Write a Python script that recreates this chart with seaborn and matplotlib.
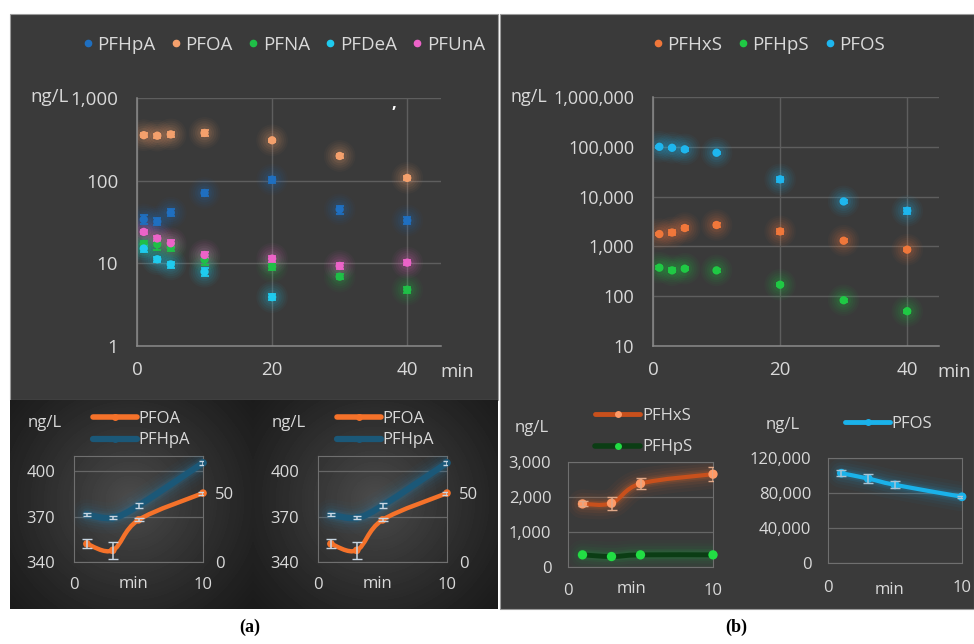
import numpy as np
import pandas as pd
import matplotlib
matplotlib.use("Agg")
import matplotlib.pyplot as plt
import seaborn as sns
from matplotlib.path import Path
from matplotlib.patches import PathPatch, Rectangle
from matplotlib.lines import Line2D
from matplotlib.ticker import FuncFormatter, FixedLocator, NullLocator

# ---------------- data ----------------
time_top = [1, 3, 5, 10, 20, 30, 40]
pfhpa = [34, 32, 41, 71, 103, 45, 33]
pfoa = [355, 350, 363, 378, 308, 199, 108]
pfna = [17.2, 17.0, 15.5, 11.1, 9.1, 6.9, 4.8]
pfdea = [15.1, 11.2, 9.7, 7.9, 3.9, np.nan, np.nan]
pfuna = [24, 20, 17.5, 12.6, 11.4, 9.3, 10.2]
pfhpa_err = [4, 3, 4, 6, 8, 5, 3]
pfoa_err = [22, 20, 25, 30, 15, 10, 6]
pfna_err = [1.5, 2.5, 1.5, 1.5, 0.8, 0.5, 0.4]
pfdea_err = [1.5, 0.8, 0.8, 0.8, 0.3, np.nan, np.nan]
pfuna_err = [1.5, 1.5, 1.8, 1.0, 1.0, 0.7, 0.7]

pfhxs = [1770, 1900, 2340, 2690, 2000, 1300, 860]
pfhps = [374, 330, 357, 330, 170, 83, 50]
pfos = [100000, 95500, 89000, 76000, 22200, 8000, 5200]
pfhxs_err = [100, 200, 170, 200, 200, 90, 60]
pfhps_err = [25, 30, 25, 25, 12, 6, 4]
pfos_err = [5000, 5000, 5000, 4000, 3000, 500, 800]

time_in = [1, 3, 5, 10]
in_pfoa = [352, 347.7, 367.8, 385.5]
in_pfoa_err = [3, 5.5, 1, 1]
in_pfhpa = [34.3, 32.1, 41, 72]
in_pfhpa_err = [1, 1, 2, 1.5]
in_pfhxs = [1803, 1822, 2382, 2652]
in_pfhxs_err = [70, 190, 160, 200]
in_pfhps = [347, 299, 347, 347]
in_pfos = [102600, 96500, 89300, 75700]
in_pfos_err = [3500, 5000, 4000, 1000]

# ---------------- style ----------------
sns.set_theme(style="ticks")
plt.rcParams["font.family"] = ["Open Sans", "DejaVu Sans"]
TXT = "#d9d9d9"
GRID = "#5e5e5e"
SPINE = "#8a8a8a"
FS_TOP = 13.5
FS_IN = 12

W, H = 974, 644
fig = plt.figure(figsize=(W / 100, H / 100), dpi=100)
fig.patch.set_facecolor("white")


def fa(l, t, r, b, **kw):
    return fig.add_axes([l / W, 1 - b / H, (r - l) / W, (b - t) / H], **kw)


def px(x, y):
    return x / W, 1 - y / H


comma = FuncFormatter(lambda v, p: f"{v:,.0f}")

# ---------------- backgrounds ----------------
fig.add_artist(Rectangle(px(10, 400), 488 / W, 386 / H, transform=fig.transFigure,
                         fc="#3a3a3a", ec="#9a9a9a", lw=0.8, zorder=-5))
fig.add_artist(Rectangle(px(500, 609), 474 / W, 595 / H, transform=fig.transFigure,
                         fc="#3a3a3a", ec="#9a9a9a", lw=0.8, zorder=-5))
axbg = fa(10, 400, 498, 609, zorder=-1)
hh, ww = 209, 488
yy, xx = np.mgrid[0:hh, 0:ww]
d1 = np.hypot(xx - 120, yy - 100)
d2 = np.hypot(xx - 365, yy - 100)
f1 = np.clip(1 - d1 / 170, 0, 1) ** 1.3
f2 = np.clip(1 - d2 / 170, 0, 1) ** 1.3
grad = 26 + 50 * np.maximum(f1, f2)
axbg.imshow(grad, cmap="gray", vmin=0, vmax=255, aspect="auto")
axbg.axis("off")


def style_axes(ax, fs, xpad, ypad):
    ax.set_facecolor("none")
    for s in ["top", "right"]:
        ax.spines[s].set_visible(False)
    for s in ["left", "bottom"]:
        ax.spines[s].set_color(SPINE)
        ax.spines[s].set_linewidth(1.1)
    ax.tick_params(axis="both", length=0, labelsize=fs, labelcolor=TXT)
    ax.tick_params(axis="x", pad=xpad)
    ax.tick_params(axis="y", pad=ypad)
    ax.set_xlabel("")
    ax.set_ylabel("")


def top_panel(l, t, r, b, series, ylim, yticks, legend_cx, yfs):
    ax = fa(l, t, r, b)
    ax.set_yscale("log")
    rows = []
    for name, vals, err, col in series:
        for xv, yv in zip(time_top, vals):
            if not np.isnan(yv):
                rows.append({"min": xv, "conc": yv, "compound": name})
    df = pd.DataFrame(rows)
    pal = {name: col for name, vals, err, col in series}
    for s_, a_ in [(520, 0.035), (400, 0.045), (290, 0.055), (190, 0.07), (110, 0.09)]:
        sns.scatterplot(data=df, x="min", y="conc", hue="compound", palette=pal, s=s_,
                        alpha=a_, edgecolor="none", legend=False, ax=ax)
    for name, vals, err, col in series:
        ax.errorbar(time_top, vals, yerr=err, fmt="none", ecolor=col, elinewidth=1.3,
                    capsize=3, capthick=1.3, zorder=3)
    sns.scatterplot(data=df, x="min", y="conc", hue="compound", palette=pal, s=36,
                    edgecolor="none", legend=False, ax=ax, zorder=4)
    ax.set_xlim(0, 45)
    ax.set_ylim(*ylim)
    ax.yaxis.set_major_locator(FixedLocator(yticks))
    ax.yaxis.set_minor_locator(NullLocator())
    ax.yaxis.set_major_formatter(comma)
    ax.set_xticks([0, 20, 40])
    ax.grid(True, color=GRID, lw=1)
    style_axes(ax, FS_TOP, 11, 13.5)
    ax.tick_params(axis="y", labelsize=yfs)
    handles = [Line2D([], [], ls="none", marker="o", ms=4.5, color=c) for _, _, _, c in series]
    labels = [n for n, _, _, _ in series]
    ax.legend(handles, labels, loc="center", bbox_to_anchor=px(legend_cx, 45),
              bbox_transform=fig.transFigure, ncol=len(series), frameon=False,
              fontsize=13.5, handletextpad=0.15, columnspacing=0.75, handlelength=0.7,
              labelcolor=TXT)
    return ax


top_panel(137, 98, 441, 346,
          [("PFHpA", pfhpa, pfhpa_err, "#1f6fc0"),
           ("PFOA", pfoa, pfoa_err, "#f4a06c"),
           ("PFNA", pfna, pfna_err, "#1fbf47"),
           ("PFDeA", pfdea, pfdea_err, "#1fcbee"),
           ("PFUnA", pfuna, pfuna_err, "#ec63c8")],
          (1, 1000), [1, 10, 100, 1000], 283, FS_TOP)
fig.text(*px(30, 97), "ng/L", ha="left", va="center", fontsize=FS_TOP, color=TXT)
fig.text(*px(440, 372), "min", ha="left", va="center", fontsize=FS_TOP, color=TXT)
fig.text(*px(394, 103), ",", ha="center", va="center", fontsize=12, color="white",
         fontweight="bold")

top_panel(653, 97, 939, 346,
          [("PFHxS", pfhxs, pfhxs_err, "#f0773a"),
           ("PFHpS", pfhps, pfhps_err, "#1fc944"),
           ("PFOS", pfos, pfos_err, "#1eb6ee")],
          (10, 1e6), [10, 100, 1000, 10000, 100000, 1000000], 768, 13)
fig.text(*px(511, 97), "ng/L", ha="left", va="center", fontsize=13, color=TXT)
fig.text(*px(937, 372), "min", ha="left", va="center", fontsize=FS_TOP, color=TXT)


# ---------------- insets ----------------
def smooth_path(x, y):
    P = np.column_stack([np.asarray(x, float), np.asarray(y, float)])
    n = len(P)
    verts = [P[0]]
    codes = [Path.MOVETO]
    for i in range(n - 1):
        p0 = P[i - 1] if i > 0 else P[i]
        p3 = P[i + 2] if i + 2 < n else P[i + 1]
        c1 = P[i] + (P[i + 1] - p0) / 6
        c2 = P[i + 1] - (p3 - P[i]) / 6
        verts += [c1, c2, P[i + 1]]
        codes += [Path.CURVE4] * 3
    return Path(verts, codes)


def glow_line(ax, x, y, color, lw, glow_color=None, glow=True):
    path = smooth_path(x, y)
    gc = glow_color or color
    if glow:
        for extra, a in [(18, 0.04), (13, 0.05), (9, 0.07), (5, 0.10), (2.5, 0.14)]:
            ax.add_patch(PathPatch(path, fc="none", ec=gc, lw=lw + extra, alpha=a,
                                   capstyle="round", joinstyle="round", zorder=2))
    ax.add_patch(PathPatch(path, fc="none", ec=color, lw=lw, capstyle="round",
                           joinstyle="round", zorder=3))


def inset_style(ax, ylim, yticks, xpad=10.4, ypad=12.5):
    ax.set_xlim(0, 10)
    ax.set_ylim(*ylim)
    ax.set_xticks([0, 10])
    ax.set_yticks(yticks)
    ax.yaxis.set_major_formatter(comma)
    ax.set_facecolor("none")
    ax.grid(False)
    ax.yaxis.grid(True, color="#666666", lw=0.9)
    ax.xaxis.grid(False)
    for s in ax.spines.values():
        s.set_color("#6f6f6f")
        s.set_linewidth(0.8)
    ax.tick_params(axis="both", length=0, labelsize=FS_IN, labelcolor=TXT)
    ax.tick_params(axis="x", pad=xpad)
    ax.tick_params(axis="y", pad=ypad)
    ax.set_xlabel("")
    ax.set_ylabel("")


def inset_markers(ax, x, y, color, s, name):
    d = pd.DataFrame({"min": x, "conc": y, "compound": name})
    sns.scatterplot(data=d, x="min", y="conc", color=color, s=s, edgecolor="none",
                    legend=False, ax=ax, zorder=5, clip_on=False)
    ax.set_xlabel("")
    ax.set_ylabel("")


ORANGE = "#f5722a"
TEAL = "#1b5878"
for dx in (0, 244):
    ax = fa(74 + dx, 456, 203 + dx, 562)
    inset_style(ax, (340, 410), [340, 370, 400], ypad=13.5, xpad=10.5)
    ax2 = ax.twinx()
    ax2.set_ylim(0, 77)
    ax2.set_yticks([0, 50])
    for s in ax2.spines.values():
        s.set_visible(False)
    ax2.tick_params(axis="y", length=0, labelsize=FS_IN, labelcolor=TXT, pad=8.5)
    ax2.grid(False)
    glow_line(ax2, time_in, in_pfhpa, TEAL, 4.5, glow_color="#2a7aa6")
    inset_markers(ax2, time_in, in_pfhpa, TEAL, 30, "PFHpA")
    ax2.errorbar(time_in, in_pfhpa, yerr=in_pfhpa_err, fmt="none", ecolor="#c8d6e2",
                 elinewidth=1.1, capsize=3, zorder=6)
    ax2.set_ylabel("")
    ax2b = ax.twinx()
    ax2b.set_ylim(340, 410)
    ax2b.set_yticks([])
    for s in ax2b.spines.values():
        s.set_visible(False)
    ax2b.grid(False)
    glow_line(ax2b, time_in, in_pfoa, ORANGE, 3.2, glow=False)
    inset_markers(ax2b, time_in, in_pfoa, ORANGE, 30, "PFOA")
    ax2b.errorbar(time_in, in_pfoa, yerr=in_pfoa_err, fmt="none", ecolor="#c8d6e2",
                  elinewidth=1.1, capsize=3.5, zorder=6)
    ax2b.set_ylabel("")
    handles = [Line2D([], [], color=ORANGE, lw=4, marker="o", ms=4),
               Line2D([], [], color=TEAL, lw=4.5, marker="o", ms=4)]
    ax2b.legend(handles, ["PFOA", "PFHpA"], loc="upper left",
                bbox_to_anchor=px(93 + dx, 411), bbox_transform=fig.transFigure,
                frameon=False, fontsize=FS_IN, handlelength=2.65, handletextpad=0.05,
                labelspacing=0.32, borderpad=0, borderaxespad=0, labelcolor=TXT)
    fig.text(*px(45 + dx, 423), "ng/L", ha="center", va="center", fontsize=FS_IN, color=TXT)
    fig.text(*px(134 + dx, 584), "min", ha="center", va="center", fontsize=FS_IN, color=TXT)

# (b) left inset
ax = fa(568, 462, 713, 567)
inset_style(ax, (0, 3000), [0, 1000, 2000, 3000], ypad=12, xpad=11.5)
glow_line(ax, time_in, in_pfhps, "#0b3d14", 3.5, glow_color="#1f9a3a")
glow_line(ax, time_in, in_pfhxs, "#c8501c", 3.0, glow_color="#f06a2a")
ax.errorbar(time_in, in_pfhxs, yerr=in_pfhxs_err, fmt="none", ecolor="#e0a888",
            elinewidth=1.1, capsize=3.5, zorder=6)
inset_markers(ax, time_in, in_pfhxs, "#ff9a66", 45, "PFHxS")
inset_markers(ax, time_in, in_pfhps, "#22dd44", 45, "PFHpS")
handles = [Line2D([], [], color="#c8501c", lw=3.5, marker="o", ms=5, mfc="#ff9a66", mec="none"),
           Line2D([], [], color="#0b3d14", lw=4, marker="o", ms=5, mfc="#22dd44", mec="none")]
ax.legend(handles, ["PFHxS", "PFHpS"], loc="upper left",
          bbox_to_anchor=px(595, 408), bbox_transform=fig.transFigure,
          frameon=False, fontsize=FS_IN, handlelength=2.7, handletextpad=0.15,
          labelspacing=0.92, borderpad=0, borderaxespad=0, labelcolor=TXT)
fig.text(*px(532, 428), "ng/L", ha="center", va="center", fontsize=FS_IN, color=TXT)
fig.text(*px(632, 589), "min", ha="center", va="center", fontsize=FS_IN, color=TXT)

# (b) right inset
ax = fa(828, 458, 962, 563)
inset_style(ax, (0, 120000), [0, 40000, 80000, 120000], ypad=12, xpad=12.5)
glow_line(ax, time_in, in_pfos, "#1ab2ea", 3.0, glow_color="#1a9ad0")
ax.errorbar(time_in, in_pfos, yerr=in_pfos_err, fmt="none", ecolor="#a8c4d4",
            elinewidth=1.1, capsize=3.5, zorder=6)
inset_markers(ax, time_in, in_pfos, "#1ab2ea", 40, "PFOS")
handles = [Line2D([], [], color="#1ab2ea", lw=3.5, marker="o", ms=4)]
ax.legend(handles, ["PFOS"], loc="upper left",
          bbox_to_anchor=px(845, 416), bbox_transform=fig.transFigure,
          frameon=False, fontsize=FS_IN, handlelength=2.7, handletextpad=0.1,
          borderpad=0, borderaxespad=0, labelcolor=TXT)
fig.text(*px(783, 425), "ng/L", ha="center", va="center", fontsize=FS_IN, color=TXT)
fig.text(*px(890, 590), "min", ha="center", va="center", fontsize=FS_IN, color=TXT)

# panel labels
fig.text(*px(250, 627), "(a)", ha="center", va="center", fontsize=13, color="black",
         family=["Liberation Serif", "DejaVu Serif"], fontweight="bold")
fig.text(*px(736, 627), "(b)", ha="center", va="center", fontsize=13, color="black",
         family=["Liberation Serif", "DejaVu Serif"], fontweight="bold")

fig.savefig("out.png", dpi=100, facecolor="white")
